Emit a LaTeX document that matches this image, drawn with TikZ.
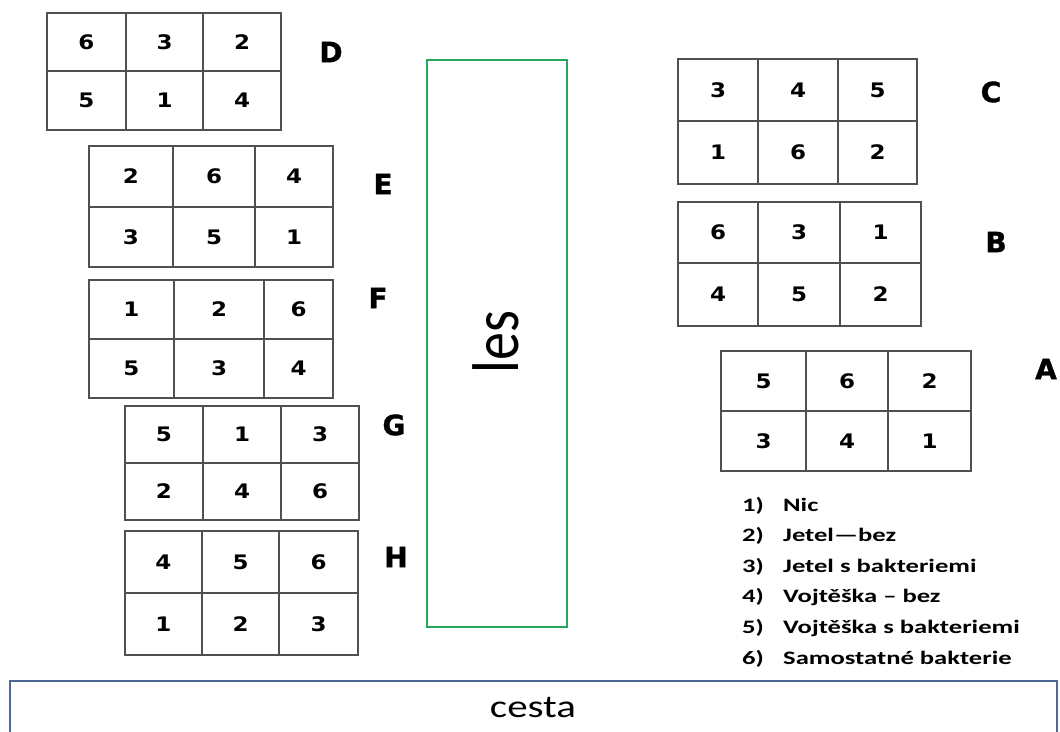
\documentclass[tikz,border=0pt]{standalone}
\usepackage{fontspec}
\usepackage{tikz}
\newfontfamily\cellfont{DejaVu Sans}[FakeStretch=1.15]
\newfontfamily\markfont{DejaVu Sans}[FakeBold=1.2]
\newfontfamily\legfont{Carlito}[FakeStretch=1.4]
\newfontfamily\signfont{Carlito}
\newfontfamily\roadfont{Carlito}[FakeStretch=1.28]

\definecolor{forestgreen}{RGB}{38,166,91}
\definecolor{roadblue}{RGB}{79,106,146}
\definecolor{gridgrey}{RGB}{80,80,80}

% one field: name, column lines, row lines, top/bottom number of each column
\newcommand{\fieldplot}[4]{%
  \foreach \v [count=\i] in {#2} \coordinate (#1x\i) at (\v,0);
  \foreach \v [count=\i] in {#3} \coordinate (#1y\i) at (0,\v);
  \draw[plotline] (#1x1 |- #1y1) rectangle (#1x4 |- #1y3);
  \draw[plotline] (#1x2 |- #1y1) -- (#1x2 |- #1y3) (#1x3 |- #1y1) -- (#1x3 |- #1y3)
    (#1x1 |- #1y2) -- (#1x4 |- #1y2);
  \foreach \t/\b [count=\c] in {#4} {
    \pgfmathtruncatemacro\d{\c+1}
    \path (#1x\c |- #1y1) -- (#1x\d |- #1y2) node[midway, cellnum] (#1t\c) {\t}
          (#1x\c |- #1y2) -- (#1x\d |- #1y3) node[midway, cellnum] (#1b\c) {\b};
  }
}

\begin{document}
\begin{tikzpicture}[x=1pt, y=-1pt,
    plotline/.style={draw=gridgrey, line width=1.2pt},
    cellnum/.style={inner sep=0, font=\cellfont\bfseries\fontsize{20}{24}\selectfont},
    plotmark/.style={inner sep=0, font=\markfont\bfseries\fontsize{28}{34}\selectfont},
    legitem/.style={anchor=base west, inner sep=0, font=\legfont\bfseries\fontsize{19}{23}\selectfont}]
		\fill[white] (0,0) rectangle (1060,731);
		\useasboundingbox (0,0) rectangle (1060,731);
		% Fields on the left of the forest:
		\fieldplot{D}{47,126,203,281}{13,71,130}{6/5,3/1,2/4}
		\fieldplot{E}{89,173,255,333}{146,207,267}{2/3,6/5,4/1}
		\fieldplot{F}{89,174,264,333}{280,339,398}{1/5,2/3,6/4}
		\fieldplot{G}{125,203,281,359}{406,463,520}{5/2,1/4,3/6}
		\fieldplot{H}{125,202,279,358}{531,593,655}{4/1,5/2,6/3}
		% Fields on the right:
		\fieldplot{C}{678,758,838,917}{59,121,184}{3/1,4/6,5/2}
		\fieldplot{B}{678,758,840,921}{202,263,326}{6/4,3/5,1/2}
		\fieldplot{A}{721,806,888,971}{351,411,471}{5/3,6/4,2/1}
		\node[plotmark] (D) at (331, 52){D};
		\node[plotmark] (E) at (383, 184){E};
		\node[plotmark] (F) at (378, 298){F};
		\node[plotmark] (G) at (394, 425){G};
		\node[plotmark] (H) at (396, 557){H};
		\node[plotmark] (C) at (991, 92){C};
		\node[plotmark] (B) at (996, 242){B};
		\node[plotmark] (A) at (1046, 369){A};
		% Forest and road:
		\draw[forestgreen, line width=2pt] (427, 60) rectangle (567, 627);
		\node[rotate=90, inner sep=0, font=\signfont\fontsize{56}{60}\selectfont] (les) at (496, 342){\scalebox{1}[1.18]{les}};
		\draw[roadblue, line width=2pt] (10, 681) rectangle (1057, 745);
		\node[anchor=base, inner sep=0, font=\roadfont\fontsize{32}{36}\selectfont] (cesta) at (533, 717){cesta};
		% Legend:
		\foreach \k/\txt [count=\i] in {1/Nic, 2/Jetel—bez, 3/Jetel s bakteriemi, 4/Vojtěška – bez, 5/Vojtěška s bakteriemi, 6/Samostatné bakterie}{
			\node[legitem] (num\i) at (742, 480.4+30.6*\i){\k)};
			\node[legitem] (leg\i) at (783, 480.4+30.6*\i){\txt};
		}
	\end{tikzpicture}
\end{document}
